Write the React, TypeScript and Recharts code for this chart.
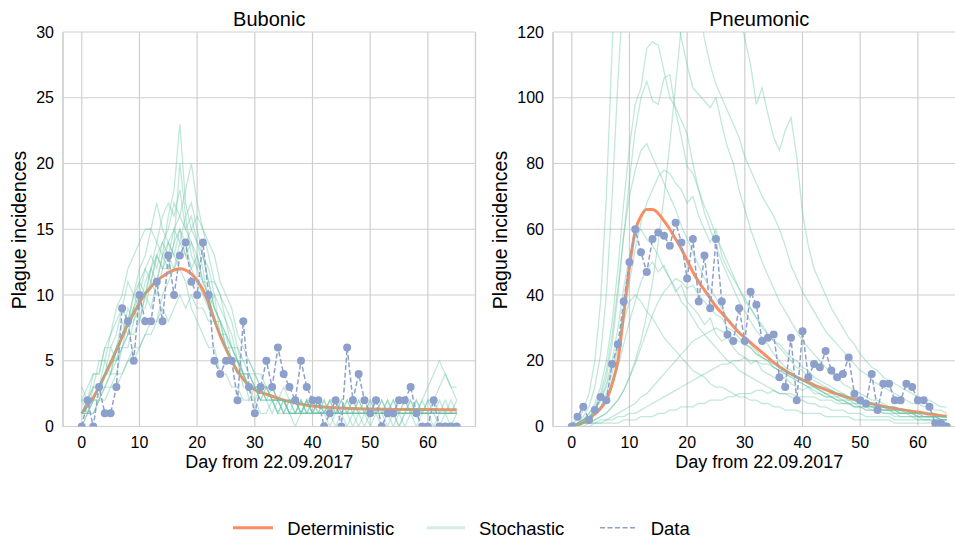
import React from "react"
import { LineChart, Line, XAxis, YAxis, CartesianGrid, ReferenceLine } from "recharts"

// observed daily incidences, day 0..65
const bubonicData = [
  0, 2, 0, 3, 1, 1, 3, 9, 8, 5,
  10, 8, 8, 11, 8, 13, 10, 13, 14, 11,
  10, 14, 10, 5, 4, 5, 5, 2, 8, 3,
  1, 3, 5, 3, 6, 4, 3, 2, 5, 3,
  2, 2, 0, 1, 2, 0, 6, 2, 4, 2,
  1, 2, 0, 1, 1, 2, 2, 3, 1, 0,
  0, 2, 0, 0, 0, 0,
]
const pneumonicData = [
  0, 3, 6, 2, 5, 9, 8, 19, 25, 38,
  50, 60, 53, 47, 57, 59, 58, 55, 62, 56,
  45, 57, 38, 52, 36, 57, 38, 28, 26, 36,
  26, 41, 37, 26, 27, 28, 15, 12, 27, 8,
  29, 15, 19, 18, 23, 17, 15, 16, 21, 10,
  8, 7, 16, 5, 13, 13, 8, 8, 13, 12,
  8, 8, 6, 1, 1, 0,
]

// deterministic model curves
const bubonicDet = [
  1.0, 1.6, 2.2, 3.0, 3.9, 4.8, 5.8, 6.8, 7.8, 8.6,
  9.4, 10.1, 10.6, 11.1, 11.4, 11.7, 11.9, 12.0, 11.9, 11.6,
  11.1, 10.4, 9.4, 8.1, 6.9, 5.9, 5.0, 4.2, 3.6, 3.1,
  2.8, 2.6, 2.45, 2.3, 2.15, 2.0, 1.9, 1.8, 1.7, 1.62,
  1.56, 1.52, 1.48, 1.45, 1.42, 1.4, 1.38, 1.36, 1.35, 1.34,
  1.33, 1.32, 1.31, 1.31, 1.3, 1.3, 1.3, 1.29, 1.29, 1.29,
  1.29, 1.29, 1.28, 1.28, 1.28, 1.28,
]
const pneumonicDet = [
  0.3, 0.6, 1.2, 2.3, 3.8, 5.5, 8, 13, 20, 34,
  48.5, 59.5, 64, 66, 66, 64.8, 62.5, 60, 57, 54,
  50.5, 47, 44, 41.5, 39, 36.5, 34.5, 32.5, 30.5, 28.5,
  27, 25.5, 24, 22.5, 21, 19.5, 18.2, 17, 16, 15,
  14.2, 13.4, 12.6, 11.9, 11.2, 10.5, 9.9, 9.3, 8.7, 8.2,
  7.7, 7.3, 6.9, 6.5, 6.1, 5.8, 5.5, 5.2, 4.9, 4.6,
  4.4, 4.1, 3.8, 3.6, 3.3, 3.1,
]

// stochastic realisations
const bubonicRuns = [
  [1,2,2,3,4,5,6,7,8,10, 9,11,12,13,12,14,15,16,15,14, 13,11,10,9,8,6,5,5,4,3, 3,2,3,2,2,1,2,1,1,2, 1,1,1,2,1,1,0,1,1,1, 2,1,1,1,0,1,1,2,1,1, 1,1,2,1,1,1],
  [2,1,3,3,5,4,6,8,7,9, 11,10,12,14,13,16,18,23,17,15, 14,12,9,10,7,6,5,4,4,2, 3,2,2,1,2,2,1,1,2,1, 1,2,1,1,1,2,1,0,1,1, 1,1,2,1,1,1,1,1,0,1, 1,2,1,1,1,1],
  [0,1,2,2,3,4,4,6,7,7, 8,10,9,11,13,12,14,20,16,17, 15,13,12,10,9,8,6,6,4,4, 3,3,2,3,2,1,2,2,1,1, 2,1,1,2,2,1,1,2,1,1, 0,1,1,2,1,1,1,1,2,1, 1,1,1,2,1,1],
  [2,3,4,4,6,7,9,10,12,13, 14,15,15,17,15,14,13,12,11,9, 8,7,6,6,4,4,3,3,2,2, 2,1,1,2,1,1,1,0,1,1, 1,2,1,1,0,1,1,1,2,1, 1,1,1,0,1,1,2,1,1,1, 1,1,0,1,1,1],
  [1,1,1,2,2,3,3,4,5,5, 6,7,8,8,10,11,12,13,14,15, 16,15,14,13,11,10,9,7,6,5, 4,4,3,3,2,3,2,2,1,2, 1,1,2,1,1,1,2,1,1,1, 1,1,1,2,1,1,1,1,1,2, 3,4,5,4,3,2],
  [1,2,3,3,4,6,5,7,9,8, 10,12,11,13,14,13,15,14,16,13, 12,11,11,9,8,7,5,4,4,3, 3,2,2,2,1,2,1,1,1,1, 2,1,1,1,1,2,1,1,1,0, 1,1,2,1,1,1,1,2,1,1, 1,1,1,1,2,1],
  [0,1,1,2,3,3,4,4,5,6, 6,7,7,8,9,8,9,10,9,10, 9,9,8,8,7,6,6,5,4,4, 3,3,3,2,2,2,2,1,2,1, 1,1,1,1,2,1,1,1,1,2, 1,1,1,1,1,0,1,1,1,1, 2,1,1,1,1,1],
  [2,2,3,5,5,7,8,9,11,10, 12,13,15,14,16,17,16,18,15,16, 14,13,11,9,8,7,6,5,5,4, 4,3,3,2,2,2,1,1,2,1, 1,1,1,0,1,1,1,2,1,1, 1,2,1,1,1,0,1,1,1,1, 1,1,1,1,0,1],
  [1,1,2,3,3,4,5,6,6,8, 9,9,11,10,12,13,12,14,13,14, 12,13,11,11,10,9,8,6,5,5, 4,3,3,3,2,2,2,2,1,2, 1,2,1,1,1,1,2,1,1,1, 1,1,1,1,2,1,1,1,1,1, 1,0,1,1,1,2],
  [3,2,4,4,6,6,7,9,8,10, 11,12,13,12,14,15,17,16,18,20, 17,15,13,11,10,8,7,5,4,4, 3,3,2,2,2,1,1,1,1,1, 1,1,1,1,1,1,1,1,2,1, 1,1,0,1,1,1,2,1,1,1, 1,1,1,1,1,1],
  [1,2,2,3,4,5,5,6,8,9, 10,10,11,13,12,12,14,15,13,12, 11,10,9,8,7,7,6,5,4,3, 3,2,3,2,2,2,1,2,1,1, 1,1,1,2,1,1,1,1,0,1, 1,1,1,1,2,1,1,1,2,1, 2,2,3,4,3,3],
  [1,1,2,2,4,4,6,6,7,9, 8,10,12,11,13,14,13,15,14,12, 13,11,10,8,8,6,5,5,3,3, 2,3,2,2,1,2,1,1,1,2, 1,1,2,1,1,1,1,1,1,1, 2,1,1,1,1,1,0,1,1,2, 1,1,1,1,1,1],
]
const pneumonicRuns = [
  [0,1,3,6,12,22,40,70,105,135, 160,175,185,180,170,160,150,140,128,118, 110,103,101,99,97,100,92,85,80,72, 66,60,55,50,46,42,38,35,32,29, 26,24,22,20,18,16,15,13,12,11, 10,9,8,8,7,6,6,5,5,4, 4,3,3,3,2,2],
  [1,2,5,10,20,38,70,115,150,190, 220,240,250,245,235,220,205,190,175,160, 150,138,128,118,110,104,100,96,92,88, 82,78,74,70,67,64,60,55,49,45, 41,38,35,32,29,27,25,23,21,19, 17,16,14,13,12,11,10,9,8,7, 7,6,6,5,5,4],
  [0,0,1,1,2,3,4,6,8,11, 15,20,26,34,44,56,70,86,104,122, 140,155,165,170,168,162,155,145,135,126, 118,110,98,103,95,88,84,90,94,82, 65,55,48,44,40,36,33,30,27,25, 22,20,18,17,15,14,13,12,11,10, 9,8,8,7,6,6],
  [0,1,2,4,7,12,20,32,48,68, 85,98,103,115,117,116,108,100,97,93, 89,80,72,65,60,55,50,46,42,38, 35,32,29,27,25,22,20,18,17,15, 14,13,12,11,10,9,8,8,7,6, 6,5,5,5,4,4,3,3,3,3, 2,2,2,2,2,1],
  [0,1,2,3,5,9,15,25,40,58, 75,90,100,105,99,98,106,107,96,88, 79,77,72,67,63,58,54,50,46,42, 39,36,33,30,28,26,24,22,20,18, 17,15,14,13,12,11,10,9,9,8, 7,7,6,6,5,5,5,4,4,4, 3,3,3,3,2,2],
  [0,1,2,4,6,10,17,28,42,58, 70,78,84,86,82,78,74,70,66,61, 57,53,49,45,42,39,36,33,31,29, 27,25,23,21,20,18,17,16,15,14, 13,12,11,10,9,9,8,7,7,6, 6,5,5,5,4,4,4,3,3,3, 3,2,2,2,2,2],
  [0,1,1,2,4,6,10,16,24,34, 44,54,62,68,72,76,78,77,74,72, 68,70,64,60,56,60,52,48,45,42, 38,36,33,31,28,26,25,23,21,20, 18,17,15,14,13,12,11,10,9,9, 8,7,7,6,6,5,5,4,4,4, 3,3,3,3,2,2],
  [0,1,2,3,5,8,13,20,30,42, 52,58,60,57,55,52,48,45,42,38, 36,33,30,28,26,24,22,20,19,17, 16,15,14,13,12,11,10,10,9,8, 8,7,7,6,6,5,5,5,4,4, 4,3,3,3,3,3,2,2,2,2, 2,2,2,1,1,1],
  [1,1,2,3,4,6,9,13,18,25, 32,38,44,48,50,47,49,45,41,43, 38,36,34,31,33,28,26,27,24,22, 21,19,20,17,16,15,14,15,13,12, 11,12,10,10,9,9,8,8,7,7, 6,6,6,5,5,5,4,4,4,3, 3,3,3,3,2,2],
  [0,0,1,1,2,3,4,6,8,11, 15,19,24,29,34,38,41,43,45,44, 42,43,40,38,36,34,33,30,29,27, 25,24,22,21,20,18,17,16,15,14, 13,12,12,11,10,9,9,8,8,7, 7,6,6,6,5,5,5,4,4,4, 4,3,3,3,3,3],
  [0,0,0,1,1,1,2,2,3,3, 4,4,5,6,7,8,9,10,11,12, 13,14,15,16,17,18,19,19,20,20, 21,20,20,19,19,18,17,17,16,15, 14,14,13,12,12,11,10,10,9,9, 8,8,7,7,6,6,6,5,5,5, 4,4,4,4,3,3],
  [0,0,0,0,1,1,1,1,1,2, 2,2,3,3,3,4,4,5,5,6, 6,6,7,7,8,8,8,9,9,10, 10,10,11,11,10,11,10,10,10,9, 9,9,9,8,8,8,7,7,7,6, 6,6,5,5,5,5,4,4,4,4, 3,3,3,3,3,3],
  [0,1,2,3,5,8,12,18,25,32, 38,40,38,35,33,30,27,25,23,21, 19,17,16,15,13,12,12,11,10,9, 9,8,8,7,7,6,6,5,5,5, 4,4,4,4,3,3,3,3,3,2, 2,2,2,2,2,2,1,1,1,1, 1,1,1,1,1,1],
  [0,0,1,1,1,2,2,3,4,5, 6,7,9,10,12,14,16,18,20,22, 24,26,27,28,29,30,29,28,27,26, 25,24,22,21,20,19,18,17,16,15, 14,13,12,11,10,10,9,9,8,8, 7,7,6,6,6,5,5,5,4,4, 4,4,3,3,3,3],
]

const dayTicks = [0, 10, 20, 30, 40, 50, 60]
const bubonicTicks = [0, 5, 10, 15, 20, 25, 30]
const pneumonicTicks = [0, 20, 40, 60, 80, 100, 120]
const xDomain: [number, number] = [-3.25, 68.25]

const ORANGE = "#fc8d62"
const GREEN = "#66c2a5"
const BLUE = "#8da0cb"
const GRID = "#cfcfcf"
const FONT = '"Liberation Sans", Arial, Helvetica, sans-serif'

function buildRows(data: number[], det: number[], runs: number[][]) {
  return data.map((v, i) => {
    const row: Record<string, number> = { day: i, data: v, det: det[i] }
    runs.forEach((r, k) => {
      row["s" + k] = r[i]
    })
    return row
  })
}

const bubonicRows = buildRows(bubonicData, bubonicDet, bubonicRuns)
const pneumonicRows = buildRows(pneumonicData, pneumonicDet, pneumonicRuns)

interface PanelProps {
  title: string
  rows: Record<string, number>[]
  runCount: number
  yMax: number
  yTicks: number[]
  left: number
  yLabelX: number
}

function Panel({ title, rows, runCount, yMax, yTicks, left, yLabelX }: PanelProps) {
  const runKeys = Array.from({ length: runCount }, (_, k) => "s" + k)
  return (
    <div style={{ position: "absolute", left, top: 0, width: 490, height: 480 }}>
      <LineChart
        width={490}
        height={480}
        data={rows}
        margin={{ top: 32, right: 14.5, bottom: 8.5, left: 0 }}
      >
        <CartesianGrid stroke={GRID} strokeWidth={1.2} />
        <XAxis
          dataKey="day"
          type="number"
          domain={xDomain}
          ticks={dayTicks}
          allowDataOverflow
          height={45}
          tickLine={false}
          tickSize={0}
          tickMargin={10}
          axisLine={{ stroke: GRID, strokeWidth: 1.2 }}
          tick={{ fill: "#000", fontSize: 16 }}
          label={{ value: "Day from 22.09.2017", position: "insideBottom", offset: 3.5, fill: "#000", fontSize: 18 }}
        />
        <YAxis
          type="number"
          domain={[0, yMax]}
          ticks={yTicks}
          allowDataOverflow
          width={63}
          tickLine={false}
          tickSize={0}
          tickMargin={9}
          axisLine={{ stroke: GRID, strokeWidth: 1.2 }}
          tick={{ fill: "#000", fontSize: 16 }}
        />
        <ReferenceLine x={xDomain[1]} stroke={GRID} strokeWidth={1.2} />
        <Line dataKey="det" type="monotone" stroke={ORANGE} strokeWidth={3} dot={false} isAnimationActive={false} />
        {runKeys.map((k) => (
          <Line
            key={k}
            dataKey={k}
            type="linear"
            stroke={GREEN}
            strokeOpacity={0.4}
            strokeWidth={1.3}
            dot={false}
            isAnimationActive={false}
          />
        ))}
        <Line
          dataKey="data"
          type="linear"
          stroke={BLUE}
          strokeWidth={1.5}
          strokeDasharray="5 2.5"
          dot={{ r: 4, fill: BLUE, stroke: BLUE, strokeWidth: 0 }}
          isAnimationActive={false}
        />
      </LineChart>
      <div
        style={{
          position: "absolute",
          left: 63,
          width: 412.5,
          top: 9,
          textAlign: "center",
          fontSize: 20,
          lineHeight: "20px",
          color: "#000",
        }}
      >
        {title}
      </div>
      <div
        style={{
          position: "absolute",
          left: yLabelX - 120,
          top: 229.5 - 12,
          width: 240,
          height: 24,
          lineHeight: "24px",
          textAlign: "center",
          fontSize: 19.5,
          color: "#000",
          transform: "rotate(-90deg)",
        }}
      >
        Plague incidences
      </div>
    </div>
  )
}

function Legend() {
  return (
    <svg width={955} height={30} style={{ position: "absolute", left: 0, top: 510 }}>
      <line x1={233} x2={273} y1={17.7} y2={17.7} stroke={ORANGE} strokeWidth={3} />
      <text x={287.3} y={25} fontSize={18.5} fill="#000">Deterministic</text>
      <line x1={427} x2={465} y1={17.7} y2={17.7} stroke={GREEN} strokeOpacity={0.3} strokeWidth={3} />
      <text x={479} y={25} fontSize={18.5} fill="#000">Stochastic</text>
      <line x1={600} x2={637} y1={17.7} y2={17.7} stroke={BLUE} strokeWidth={1.5} strokeDasharray="5 2.5" />
      <text x={650.7} y={25} fontSize={18.5} fill="#000">Data</text>
    </svg>
  )
}

export default function App() {
  return (
    <div
      style={{
        position: "absolute",
        left: 0,
        top: 0,
        width: 955,
        height: 539,
        overflow: "hidden",
        background: "#fff",
        fontFamily: FONT,
      }}
    >
      <Panel
        title="Bubonic"
        rows={bubonicRows}
        runCount={bubonicRuns.length}
        yMax={30}
        yTicks={bubonicTicks}
        left={0}
        yLabelX={19}
      />
      <Panel
        title="Pneumonic"
        rows={pneumonicRows}
        runCount={pneumonicRuns.length}
        yMax={120}
        yTicks={pneumonicTicks}
        left={490}
        yLabelX={9.7}
      />
      <Legend />
    </div>
  )
}
